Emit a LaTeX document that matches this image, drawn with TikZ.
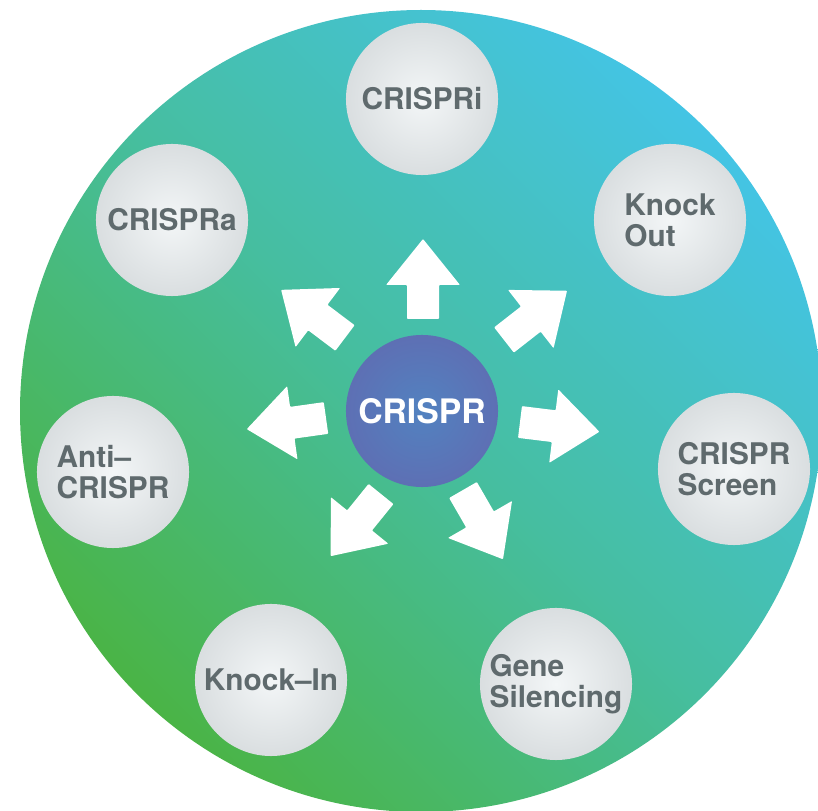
\documentclass[tikz,border=0pt]{standalone}
\usepackage{fontspec}
\setmainfont{TeX Gyre Heros}
\usepackage{xcolor}
\usepackage{tikz}
\usetikzlibrary{positioning}

\definecolor{bggreen}{RGB}{74,180,70}
\definecolor{bgteal}{RGB}{70,190,160}
\definecolor{bgcyan}{RGB}{68,196,228}
\definecolor{balllight}{RGB}{243,246,247}
\definecolor{balldark}{RGB}{192,198,201}
\definecolor{hublight}{RGB}{82,130,192}
\definecolor{hubdark}{RGB}{105,93,168}
\definecolor{labelgray}{RGB}{95,106,109}

\pgfdeclareradialshading{ball}{\pgfpoint{0bp}{0bp}}{color(0bp)=(balllight); color(50bp)=(balldark)}
\pgfdeclareradialshading{hub}{\pgfpoint{0bp}{0bp}}{color(0bp)=(hublight); color(50bp)=(hubdark)}

\begin{document}
\begin{tikzpicture}[x=0.025cm, y=0.025cm]
\clip (0,0) rectangle (818,811);
\shade[bottom color=bggreen, top color=bgcyan, middle color=bgteal, shading angle=-45] (421,400) circle (401);
% white block arrows around the hub
\foreach \tx/\ty/\a in {423/492/90, 504/471/38, 520/389/-7, 463/321/-60, 381/317/231, 326/393/188, 345/473/143}
  \fill[white, rounded corners=0.6pt, shift={(\tx,\ty)}, rotate=\a] (0,-16) -- (34,-16) -- (34,-37) -- (80,0) -- (34,37) -- (34,16) -- (0,16) -- cycle;
\tikzstyle{every node} = [circle, shading=ball, minimum size=3.8cm, inner sep=0pt, align=left, text=labelgray, font=\bfseries\fontsize{21.2}{21.8}\selectfont]
\node[shading=hub, text=white, font=\bfseries\fontsize{24}{26}\selectfont] (hub) at (422,400) {CRISPR};
\node (crispri) at (422,712) {CRISPRi};
\node (knockout) at (670,591) {Knock\\Out};
\node (screen) at (734,342) {CRISPR\\Screen};
\node (silencing) at (556,127) {Gene\\Silencing};
\node (knockin) at (271,131) {Knock–In};
\node (anti) at (113,339) {Anti–\\CRISPR};
\node (crispra) at (172,591) {CRISPRa};
\end{tikzpicture}
\end{document}
